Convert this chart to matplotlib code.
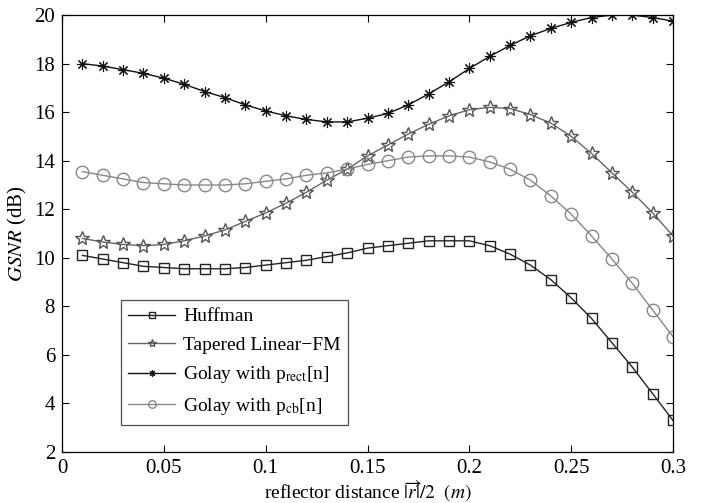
import numpy as np
import matplotlib
matplotlib.use('Agg')
import matplotlib.pyplot as plt

plt.rcParams['font.family'] = ['Liberation Serif', 'DejaVu Serif']
plt.rcParams['mathtext.fontset'] = 'stix'

# reflector distance |r|/2 in metres
dist = [0.01, 0.02, 0.03, 0.04, 0.05, 0.06, 0.07, 0.08, 0.09, 0.10,
        0.11, 0.12, 0.13, 0.14, 0.15, 0.16, 0.17, 0.18, 0.19, 0.20,
        0.21, 0.22, 0.23, 0.24, 0.25, 0.26, 0.27, 0.28, 0.29, 0.30]

# GSNR in dB for each code
huffman = [10.1, 9.95, 9.8, 9.65, 9.6, 9.55, 9.55, 9.55, 9.6, 9.7,
           9.8, 9.9, 10.05, 10.2, 10.4, 10.5, 10.6, 10.7, 10.7, 10.7,
           10.5, 10.15, 9.7, 9.1, 8.35, 7.5, 6.5, 5.5, 4.4, 3.3]
tapered_lfm = [10.8, 10.65, 10.55, 10.5, 10.55, 10.7, 10.9, 11.15, 11.5, 11.85,
               12.25, 12.7, 13.2, 13.65, 14.2, 14.65, 15.1, 15.5, 15.85, 16.1,
               16.2, 16.15, 15.9, 15.55, 15.0, 14.3, 13.5, 12.7, 11.85, 10.9]
golay_rect = [18.0, 17.9, 17.75, 17.6, 17.4, 17.15, 16.85, 16.6, 16.3, 16.05,
              15.85, 15.7, 15.6, 15.6, 15.75, 15.95, 16.3, 16.75, 17.25, 17.8,
              18.3, 18.75, 19.15, 19.45, 19.7, 19.9, 20.0, 20.0, 19.9, 19.75]
golay_cb = [13.55, 13.4, 13.25, 13.1, 13.05, 13.0, 13.0, 13.0, 13.05, 13.15,
            13.25, 13.4, 13.5, 13.65, 13.85, 14.0, 14.15, 14.2, 14.2, 14.15,
            13.95, 13.65, 13.2, 12.55, 11.8, 10.9, 9.95, 8.95, 7.85, 6.75]

fig = plt.figure(figsize=(7.08, 5.03), dpi=100)
ax = fig.add_axes([0.0876, 0.1014, 0.863, 0.8686])

ax.plot(dist, huffman, color='#222222', lw=1.0, marker='s', ms=7,
        mfc='none', mec='#222222', mew=1.0, label='Huffman')
ax.plot(dist, tapered_lfm, color='#666666', lw=1.0, marker='*', ms=10,
        mfc='none', mec='#555555', mew=1.0, label='Tapered Linear\u2212FM')
ax.plot(dist, golay_rect, color='#111111', lw=1.0, marker=(8, 2, 0), ms=8,
        mec='#111111', mew=0.8, label=r'Golay with p$_{\rm rect}$[n]')
ax.plot(dist, golay_cb, color='#888888', lw=1.0, marker='o', ms=9,
        mfc='none', mec='#888888', mew=1.0, label=r'Golay with p$_{\rm cb}$[n]')

ax.set_xlim(0, 0.3)
ax.set_ylim(2, 20)
ax.set_xticks([0, 0.05, 0.1, 0.15, 0.2, 0.25, 0.3])
ax.set_xticklabels(['0', '0.05', '0.1', '0.15', '0.2', '0.25', '0.3'])
ax.set_yticks(np.arange(2, 21, 2))
ax.tick_params(direction='in', top=True, right=True, labelsize=15, length=5, pad=5)
for s in ax.spines.values():
    s.set_linewidth(0.9)

ax.set_xlabel(r'reflector distance $|\overrightarrow{r}|/2\ \ (m)$', fontsize=14, labelpad=0)
ax.set_ylabel(r'$GSNR$ (dB)', fontsize=15, labelpad=4)

leg = ax.legend(loc='lower left', bbox_to_anchor=(0.096, 0.062), fontsize=14,
                markerscale=0.6, numpoints=1, fancybox=False, edgecolor='#222222',
                handlelength=2.4, handletextpad=0.4, labelspacing=0.55,
                borderpad=0.4, borderaxespad=0)
leg.get_frame().set_linewidth(0.9)

fig.savefig('out.png', dpi=100)
